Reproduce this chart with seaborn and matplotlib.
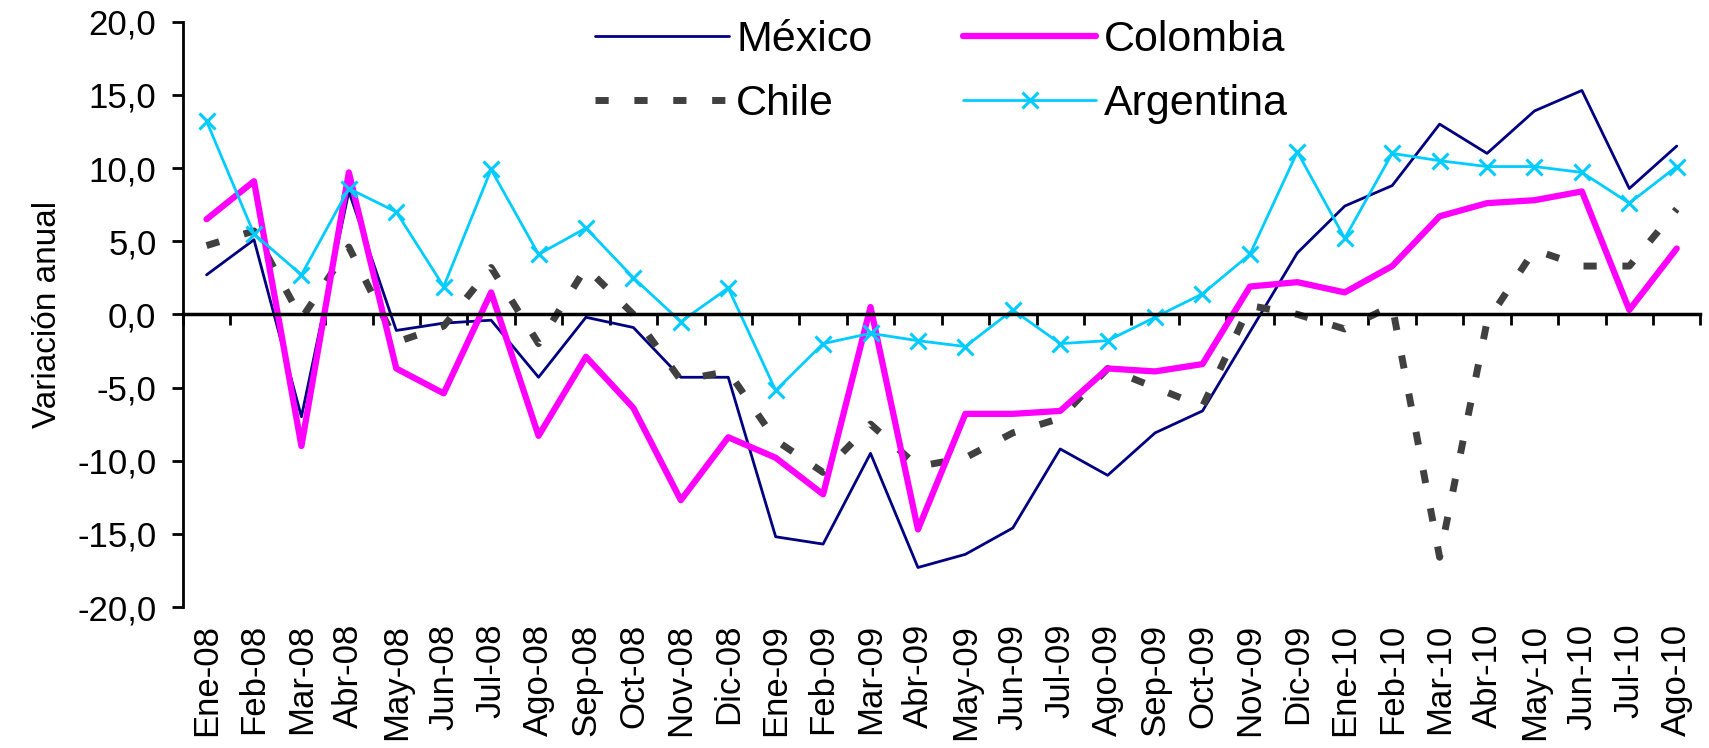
import pandas as pd
import numpy as np
import matplotlib
matplotlib.use('Agg')
import matplotlib.pyplot as plt
import seaborn as sns
from matplotlib.ticker import MultipleLocator, FuncFormatter

months = ['Ene-08', 'Feb-08', 'Mar-08', 'Abr-08', 'May-08', 'Jun-08', 'Jul-08', 'Ago-08',
          'Sep-08', 'Oct-08', 'Nov-08', 'Dic-08', 'Ene-09', 'Feb-09', 'Mar-09', 'Abr-09',
          'May-09', 'Jun-09', 'Jul-09', 'Ago-09', 'Sep-09', 'Oct-09', 'Nov-09', 'Dic-09',
          'Ene-10', 'Feb-10', 'Mar-10', 'Abr-10', 'May-10', 'Jun-10', 'Jul-10', 'Ago-10']

mexico = [2.7, 5.1, -7.0, 8.4, -1.1, -0.6, -0.4, -4.3, -0.2, -0.9, -4.3, -4.3,
          -15.2, -15.7, -9.5, -17.3, -16.4, -14.6, -9.2, -11.0, -8.1, -6.6, -1.2, 4.2,
          7.4, 8.8, 13.0, 11.0, 13.9, 15.3, 8.6, 11.5]
colombia = [6.5, 9.1, -9.0, 9.7, -3.7, -5.4, 1.5, -8.3, -2.9, -6.4, -12.7, -8.4,
            -9.8, -12.3, 0.5, -14.7, -6.8, -6.8, -6.6, -3.7, -3.9, -3.4, 1.9, 2.2,
            1.5, 3.3, 6.7, 7.6, 7.8, 8.4, 0.3, 4.5]
chile = [4.7, 5.7, -0.3, 4.6, -1.9, -0.8, 3.2, -2.0, 3.2, 0.0, -4.5, -3.9,
         -8.6, -10.8, -7.5, -10.4, -9.8, -8.1, -7.1, -3.7, -5.0, -6.3, 0.6, 0.0,
         -1.0, 0.6, -16.6, -0.5, 4.4, 3.3, 3.3, 7.2]
argentina = [13.2, 5.5, 2.7, 8.6, 7.0, 1.9, 9.9, 4.1, 5.9, 2.5, -0.5, 1.8,
             -5.2, -2.0, -1.3, -1.8, -2.2, 0.3, -2.0, -1.8, -0.2, 1.4, 4.1, 11.1,
             5.2, 11.0, 10.5, 10.1, 10.1, 9.7, 7.6, 10.1]

pos = np.arange(len(months))
df = pd.DataFrame({'pos': pos, 'México': mexico, 'Colombia': colombia,
                   'Chile': chile, 'Argentina': argentina})

sns.set_style('ticks')
plt.rcParams['font.family'] = ['Liberation Sans', 'DejaVu Sans']
plt.rcParams.update({'text.color': 'black', 'axes.labelcolor': 'black',
                     'xtick.color': 'black', 'ytick.color': 'black',
                     'axes.edgecolor': 'black'})

fig = plt.figure(figsize=(17.09, 7.48), dpi=100)
ax = fig.add_axes([0.107, 0.1885, 0.888, 0.7825])

arg_color = '#00CCFF'
sns.lineplot(data=df, x='pos', y='México', ax=ax, color='#000080', lw=2.0, label='México')
sns.lineplot(data=df, x='pos', y='Chile', ax=ax, color='#404040', lw=5.0,
             label='Chile').lines[-1].set_dashes((1.9, 3.7))
sns.lineplot(data=df, x='pos', y='Colombia', ax=ax, color='#FF00FF', lw=4.5, label='Colombia')
sns.lineplot(data=df, x='pos', y='Argentina', ax=ax, color=arg_color, lw=2.0,
             marker='x', markersize=12, markeredgewidth=2.2, markeredgecolor=arg_color,
             label='Argentina')

ax.set_ylim(-20, 20)
ax.set_xlim(-0.5, len(months) - 0.5)
ax.yaxis.set_major_locator(MultipleLocator(5))
ax.yaxis.set_major_formatter(FuncFormatter(lambda v, p: f'{v:.1f}'.replace('.', ',')))
ax.tick_params(axis='y', labelsize=25, length=8, width=2, pad=11, direction='out')
ax.set_ylabel('Variación anual', fontsize=24, labelpad=10)
ax.set_xlabel('')

# zero line with boundary ticks
ax.spines['bottom'].set_position(('data', 0))
ax.spines['bottom'].set_linewidth(2.5)
ax.spines['left'].set_linewidth(2)
ax.spines['top'].set_visible(False)
ax.spines['right'].set_visible(False)
ax.set_xticks(np.arange(len(months) + 1) - 0.5)
ax.set_xticklabels([])
ax.tick_params(axis='x', length=8, width=2, direction='out')

sec = ax.secondary_xaxis(0.0)
sec.set_xticks(pos)
sec.set_xticklabels(months, rotation=90, fontsize=25)
sec.tick_params(length=0, pad=12)
sec.spines['bottom'].set_visible(False)

handles, labels = ax.get_legend_handles_labels()
order = ['México', 'Chile', 'Colombia', 'Argentina']
hmap = dict(zip(labels, handles))
ax.legend([hmap[k] for k in order], order, ncol=2, frameon=False, fontsize=31,
          loc='center', bbox_to_anchor=(0.551, 0.904), bbox_transform=fig.transFigure,
          handlelength=3.1, handletextpad=0.18, columnspacing=2.1, labelspacing=0.55,
          borderpad=0)

fig.savefig('out.png', dpi=100)
